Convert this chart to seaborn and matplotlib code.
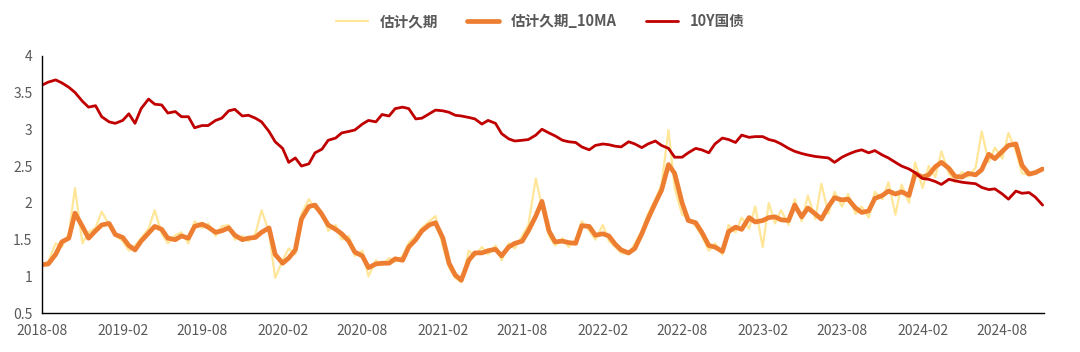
import matplotlib
matplotlib.use("Agg")
import matplotlib.pyplot as plt
import matplotlib.dates as mdates
import seaborn as sns
import pandas as pd
import numpy as np

# semi-monthly readings, 2018-08-01 .. 2024-11-01
dates = pd.date_range("2018-08-01", "2024-11-01", freq="SMS")

duration_raw = [
    1.17, 1.20, 1.45, 1.40, 1.58, 2.20, 1.45, 1.60, 1.66, 1.88,
    1.70, 1.55, 1.48, 1.35, 1.42, 1.52, 1.65, 1.90, 1.58, 1.45,
    1.56, 1.60, 1.45, 1.75, 1.66, 1.72, 1.55, 1.68, 1.70, 1.50,
    1.55, 1.48, 1.58, 1.90, 1.60, 0.98, 1.22, 1.38, 1.30, 1.85,
    2.05, 1.92, 1.88, 1.62, 1.70, 1.50, 1.55, 1.28, 1.35, 1.00,
    1.22, 1.15, 1.25, 1.20, 1.28, 1.46, 1.55, 1.66, 1.75, 1.82,
    1.40, 1.12, 0.98, 0.92, 1.35, 1.28, 1.40, 1.30, 1.42, 1.22,
    1.45, 1.38, 1.55, 1.70, 2.33, 1.95, 1.55, 1.42, 1.52, 1.40,
    1.50, 1.75, 1.62, 1.50, 1.70, 1.48, 1.40, 1.32, 1.30, 1.45,
    1.62, 1.85, 2.05, 2.25, 2.99, 2.20, 1.84, 1.80, 1.68, 1.55,
    1.35, 1.45, 1.30, 1.70, 1.60, 1.80, 1.65, 1.95, 1.40, 2.00,
    1.72, 1.90, 1.70, 2.05, 1.75, 2.10, 1.78, 2.26, 1.85, 2.15,
    1.95, 2.12, 1.85, 1.95, 1.80, 2.15, 2.05, 2.28, 1.84, 2.25,
    2.00, 2.55, 2.20, 2.50, 2.35, 2.70, 2.40, 2.28, 2.42, 2.35,
    2.48, 2.97, 2.55, 2.75, 2.60, 2.95, 2.70, 2.40, 2.38, 2.42,
    2.47,
]

duration_ma = [
    1.16, 1.17, 1.30, 1.47, 1.52, 1.86, 1.68, 1.52, 1.62, 1.70,
    1.72, 1.57, 1.53, 1.42, 1.36, 1.48, 1.59, 1.68, 1.64, 1.52,
    1.50, 1.55, 1.52, 1.68, 1.71, 1.67, 1.60, 1.62, 1.66, 1.56,
    1.50, 1.52, 1.53, 1.60, 1.66, 1.30, 1.18, 1.25, 1.36, 1.78,
    1.95, 1.97, 1.84, 1.70, 1.64, 1.58, 1.48, 1.33, 1.28, 1.12,
    1.17, 1.18, 1.18, 1.24, 1.22, 1.40, 1.50, 1.62, 1.70, 1.73,
    1.52, 1.18, 1.02, 0.95, 1.22, 1.32, 1.32, 1.35, 1.37, 1.28,
    1.40, 1.45, 1.48, 1.62, 1.82, 2.02, 1.62, 1.47, 1.48, 1.46,
    1.45, 1.69, 1.68, 1.56, 1.58, 1.55, 1.44, 1.36, 1.32, 1.38,
    1.58, 1.78, 2.00, 2.17, 2.52, 2.40, 2.00, 1.76, 1.73, 1.60,
    1.42, 1.40, 1.34, 1.61, 1.67, 1.64, 1.80, 1.74, 1.76, 1.80,
    1.81, 1.77, 1.76, 1.97, 1.81, 1.93, 1.85, 1.78, 1.95, 2.07,
    2.04, 2.05, 1.93, 1.87, 1.89, 2.06, 2.10, 2.16, 2.12, 2.15,
    2.10, 2.40, 2.35, 2.38, 2.49, 2.55, 2.47, 2.36, 2.35, 2.40,
    2.38, 2.45, 2.66, 2.60, 2.70, 2.78, 2.80, 2.51, 2.39, 2.41,
    2.46,
]

cgb_10y = [
    3.60, 3.64, 3.67, 3.63, 3.57, 3.50, 3.38, 3.30, 3.32, 3.17,
    3.10, 3.08, 3.12, 3.21, 3.08, 3.28, 3.41, 3.34, 3.33, 3.22,
    3.24, 3.17, 3.17, 3.02, 3.05, 3.05, 3.12, 3.15, 3.25, 3.27,
    3.18, 3.19, 3.15, 3.10, 2.97, 2.83, 2.74, 2.55, 2.61, 2.50,
    2.53, 2.68, 2.73, 2.85, 2.88, 2.95, 2.97, 2.99, 3.07, 3.12,
    3.10, 3.20, 3.18, 3.28, 3.30, 3.28, 3.14, 3.15, 3.21, 3.26,
    3.25, 3.23, 3.19, 3.18, 3.16, 3.14, 3.07, 3.12, 3.08, 2.94,
    2.87, 2.84, 2.85, 2.86, 2.92, 3.00, 2.95, 2.91, 2.85, 2.83,
    2.82, 2.76, 2.72, 2.78, 2.80, 2.79, 2.77, 2.76, 2.83, 2.80,
    2.75, 2.80, 2.84, 2.78, 2.74, 2.62, 2.62, 2.68, 2.74, 2.72,
    2.68, 2.80, 2.88, 2.86, 2.82, 2.92, 2.89, 2.90, 2.90, 2.86,
    2.84, 2.80, 2.74, 2.70, 2.67, 2.65, 2.63, 2.62, 2.61, 2.55,
    2.62, 2.66, 2.70, 2.72, 2.68, 2.71, 2.65, 2.61, 2.55, 2.50,
    2.46, 2.41, 2.33, 2.32, 2.29, 2.25, 2.32, 2.30, 2.28, 2.27,
    2.26, 2.21, 2.18, 2.19, 2.12, 2.05, 2.16, 2.13, 2.14, 2.08,
    1.97,
]

series_names = ["估计久期", "估计久期_10MA", "10Y国债"]
series_colors = ["#FFE699", "#ED7D31", "#C00000"]
series_widths = [1.6, 3.4, 2.0]

df = pd.DataFrame({"date": dates, series_names[0]: duration_raw,
                   series_names[1]: duration_ma, series_names[2]: cgb_10y})
long_df = df.melt(id_vars="date", var_name="series", value_name="value")

sns.set_style("white")
plt.rcParams["font.family"] = ["Noto Sans CJK SC", "DejaVu Sans"]

fig = plt.figure(figsize=(10.8, 3.52), dpi=100)
ax = fig.add_axes([0.039, 0.110, 0.928, 0.732])

for name, col, lw in zip(series_names, series_colors, series_widths):
    sns.lineplot(data=long_df[long_df["series"] == name], x="date", y="value",
                 color=col, linewidth=lw, label=name, ax=ax, legend=False)

ax.set_ylim(0.5, 4)
ax.set_yticks(np.arange(0.5, 4.01, 0.5))
ax.set_yticklabels([f"{v:g}" for v in np.arange(0.5, 4.01, 0.5)])
ax.set_xlim(pd.Timestamp("2018-08-01"), pd.Timestamp("2024-11-05"))
ax.xaxis.set_major_locator(mdates.MonthLocator(bymonth=[2, 8]))
ax.xaxis.set_major_formatter(mdates.DateFormatter("%Y-%m"))
ax.set_xlabel("")
ax.set_ylabel("")

for s in ["top", "right"]:
    ax.spines[s].set_visible(False)
for s in ["left", "bottom"]:
    ax.spines[s].set_color("#000000")
    ax.spines[s].set_linewidth(1.0)
ax.tick_params(axis="both", direction="out", length=4, width=1, color="#000000",
               labelcolor="#595959", labelsize=10)
ax.tick_params(axis="x", pad=4)
ax.tick_params(axis="y", pad=3)

handles, labels = ax.get_legend_handles_labels()
leg = fig.legend(handles, labels, loc="upper center", bbox_to_anchor=(0.5, 1.0),
                 ncol=3, frameon=False, fontsize=10.5, handlelength=2.2,
                 columnspacing=2.0)
for t in leg.get_texts():
    t.set_color("#595959")
    t.set_fontweight("bold")

fig.savefig("out.png", dpi=100)
